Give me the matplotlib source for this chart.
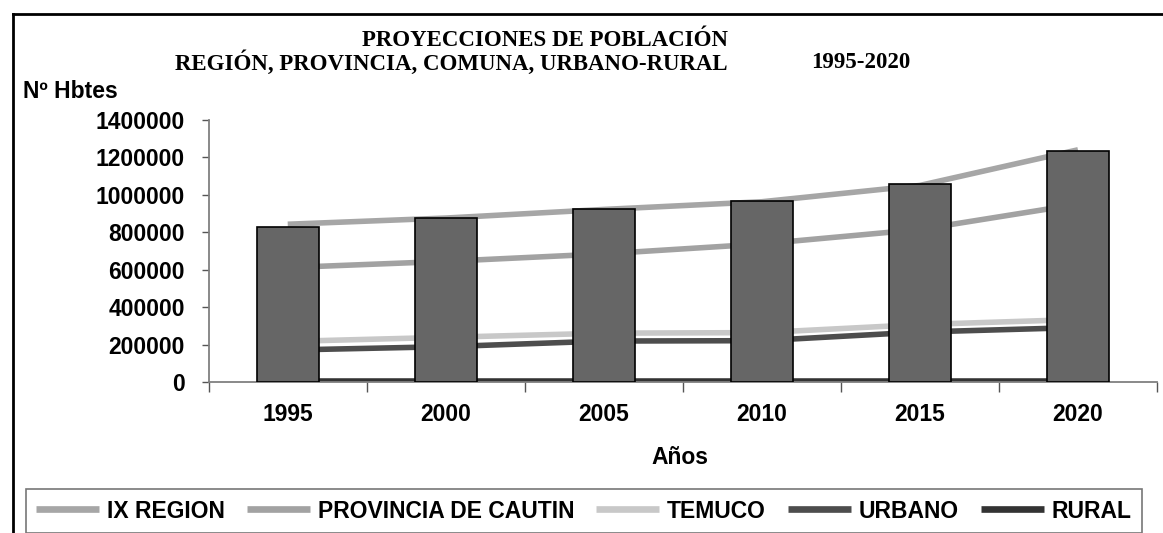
import matplotlib
matplotlib.use("Agg")
import matplotlib.pyplot as plt
from matplotlib.lines import Line2D
import numpy as np

years = ["1995", "2000", "2005", "2010", "2015", "2020"]
bar_values = [830000, 874000, 926000, 968000, 1058000, 1236000]
ix_region = [843000, 876000, 922000, 963000, 1050000, 1240000]
provincia = [612000, 645000, 685000, 738000, 815000, 950000]
temuco = [218000, 240000, 262000, 265000, 308000, 335000]
urbano = [172000, 190000, 220000, 222000, 268000, 292000]
rural = [6000, 6000, 6000, 6000, 6000, 6000]
series_names = ["IX REGION", "PROVINCIA DE CAUTIN", "TEMUCO", "URBANO", "RURAL"]
series_colors = ["#a6a6a6", "#a2a2a2", "#c8c8c8", "#4d4d4d", "#333333"]
yticks = [0, 200000, 400000, 600000, 800000, 1000000, 1200000, 1400000]

W, H = 1163, 533
fig = plt.figure(figsize=(W / 100, H / 100), dpi=100)
sans = "Liberation Sans"
serif = "Liberation Serif"
FS = 16.5

ax = fig.add_axes([208.7 / W, 1 - 382.3 / H, (1157 - 208.7) / W, (382.3 - 119.8) / H])
x = np.arange(len(years))
series = [ix_region, provincia, temuco, urbano, rural]
for vals, name, col in zip(series, series_names, series_colors):
    ax.plot(x, vals, color=col, lw=4.0, solid_capstyle="butt", zorder=2, label=name)
ax.bar(x, bar_values, width=0.39, color="#666666", edgecolor="black", linewidth=1.2, zorder=3)

ax.set_xlim(-0.5, 5.5)
ax.set_ylim(0, 1400000)
ax.set_yticks(yticks)
ax.set_yticklabels([str(v) for v in yticks], fontfamily=sans, fontweight="bold", fontsize=FS)
ax.set_xticks(np.arange(-0.5, 6.0, 1.0))
ax.set_xticklabels([])
ax.set_xticks(x, minor=True)
ax.set_xticklabels(years, minor=True, fontfamily=sans, fontweight="bold", fontsize=FS)
ax.tick_params(axis="x", which="major", direction="out", length=7, width=1, color="#555555")
ax.tick_params(axis="x", which="minor", length=0, pad=15)
ax.tick_params(axis="y", direction="out", length=5, width=1, color="#555555", pad=12)
for s in ["top", "right"]:
    ax.spines[s].set_visible(False)
for s in ["left", "bottom"]:
    ax.spines[s].set_color("#808080")
    ax.spines[s].set_linewidth(1.3)
ax.set_facecolor("none")

# Titles
fig.text(545 / W, 1 - 41 / H, "PROYECCIONES DE POBLACIÓN", ha="center", va="center",
         fontfamily=serif, fontweight="bold", fontsize=FS)
fig.text(175 / W, 1 - 63 / H, "REGIÓN, PROVINCIA, COMUNA, URBANO-RURAL",
         ha="left", va="center", fontfamily=serif, fontweight="bold", fontsize=FS)
fig.text(910 / W, 1 - 63 / H, "1995-2020",
         ha="right", va="center", fontfamily=serif, fontweight="bold", fontsize=FS)
fig.text(22.7 / W, 1 - 92 / H, "Nº Hbtes", ha="left", va="center",
         fontfamily=sans, fontweight="bold", fontsize=FS)
fig.text(680 / W, 1 - 457 / H, "Años", ha="center", va="center",
         fontfamily=sans, fontweight="bold", fontsize=FS)

# Outer frame (left and top lines)
fig.add_artist(Line2D([12.7 / W, 12.7 / W], [0, 1 - 14 / H], transform=fig.transFigure, color="black", lw=2))
fig.add_artist(Line2D([12.7 / W, 1], [1 - 14 / H, 1 - 14 / H], transform=fig.transFigure, color="black", lw=2))

# Legend
handles = [Line2D([], [], color=c, lw=4.8, solid_capstyle="butt") for c in series_colors]
leg = fig.legend(handles, series_names, loc="center", bbox_to_anchor=((22 + 1146) / 2 / W, 1 - 511 / H),
                 ncol=5, frameon=True, fancybox=False, edgecolor="#555555",
                 prop={"family": sans, "weight": "bold", "size": FS},
                 handlelength=2.75, handletextpad=0.35, columnspacing=0.95, borderpad=0.45)
leg.get_frame().set_linewidth(1.2)

fig.savefig("out.png", dpi=100)
